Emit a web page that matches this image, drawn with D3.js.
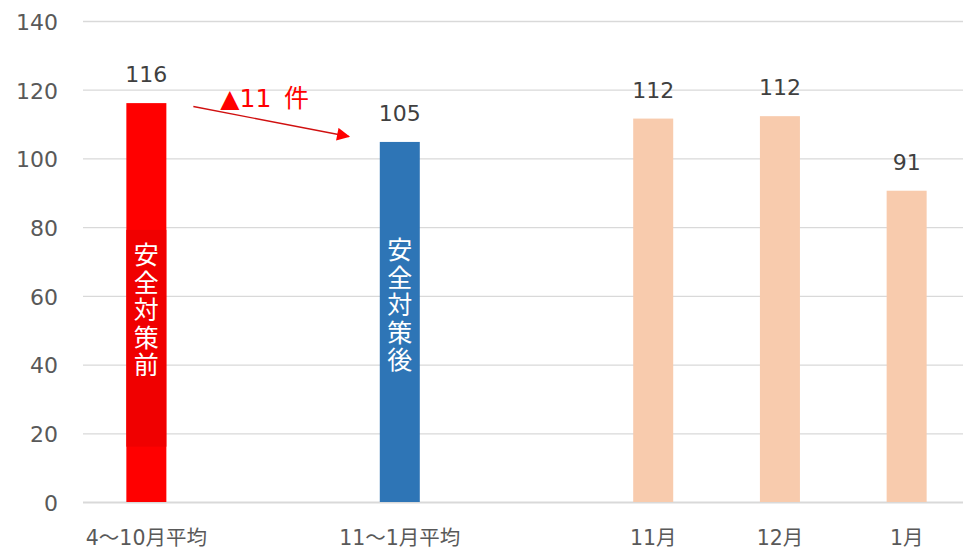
<!DOCTYPE html>
<html><head><meta charset="utf-8">
<script src="https://cdn.jsdelivr.net/npm/d3@7"></script>
<style>
html,body{margin:0;padding:0;background:#fff;}
svg{display:block;}
text{font-family:"DejaVu Sans","Noto Sans CJK JP",sans-serif;}
</style></head>
<body>
<svg id="chart" width="963" height="550"></svg>
<script>
const categories = ["4〜10月平均", "", "11〜1月平均", "", "11月", "12月", "1月"];
const values = [116.1, null, 104.8, null, 111.6, 112.3, 90.6];
const barColors = ["#FF0000", null, "#2E75B6", null, "#F8CBAD", "#F8CBAD", "#F8CBAD"];
const barTexts = ["安全対策前", "", "安全対策後", "", "", "", ""];
const yTicks = [0, 20, 40, 60, 80, 100, 120, 140];
const annotationText = "▲11\u2002件";

(function () {
const mLeft = 83, mTop = 21, mBottom = 502, mRight = 963;
const svg = d3.select("#chart");

const y = d3.scaleLinear().domain([0, 140]).range([mBottom, mTop]);
const p = 0.6843;
const x = d3.scaleBand().domain(d3.range(categories.length))
  .range([mLeft, 970]).paddingInner(p).paddingOuter(p / 2);

// grid + y labels
const gy = svg.append("g").attr("transform", `translate(${mLeft},0)`)
  .call(d3.axisLeft(y).tickValues(yTicks).tickSize(-(mRight - mLeft)).tickPadding(25));
gy.select(".domain").remove();
gy.selectAll(".tick line").attr("stroke", "#D9D9D9").attr("stroke-width", 1.3);
gy.selectAll(".tick").filter(d => d === 0).select("line").attr("stroke-width", 2);
gy.selectAll(".tick text").attr("fill", "#595959").attr("font-size", 22)
  .attr("dy", "0.38em");

// x labels
const gx = svg.append("g").attr("transform", `translate(0,${mBottom})`)
  .call(d3.axisBottom(x).tickSize(0).tickPadding(28).tickFormat(i => categories[i]));
gx.select(".domain").remove();
gx.selectAll(".tick text").attr("fill", "#595959").attr("font-size", 20.5);

const data = categories.map((c, i) => ({i, c, v: values[i], col: barColors[i], t: barTexts[i]}))
  .filter(d => d.v != null);

// bars
svg.append("g").selectAll("rect").data(data).join("rect")
  .attr("x", d => x(d.i)).attr("width", x.bandwidth())
  .attr("y", d => y(d.v)).attr("height", d => y(0) - y(d.v))
  .attr("fill", d => d.col);

// darker text box on red bar
svg.append("rect").attr("x", x(0)).attr("width", x.bandwidth())
  .attr("y", y(79.2)).attr("height", y(16.1) - y(79.2)).attr("fill", "#F00000");

// value labels
svg.append("g").selectAll("text").data(data).join("text")
  .attr("x", d => x(d.i) + x.bandwidth() / 2).attr("y", d => y(d.v) - 21)
  .attr("text-anchor", "middle").attr("font-size", 22).attr("fill", "#404040")
  .text(d => d3.format(".0f")(d.v));

// vertical bar texts
data.filter(d => d.t).forEach(d => {
  const cx = x(d.i) + x.bandwidth() / 2;
  const startY = d.i === 0 ? 264 : 259;
  const chars = Array.from(d.t);
  svg.append("text").attr("text-anchor", "middle").attr("font-size", 25)
    .attr("fill", "#FFFFFF")
    .selectAll("tspan").data(chars).join("tspan")
    .attr("x", cx).attr("y", (c, k) => startY + k * 27.5).text(c => c);
});

// annotation arrow
const defs = svg.append("defs");
defs.append("marker").attr("id", "arr").attr("viewBox", "0 0 10 10")
  .attr("refX", 9).attr("refY", 5).attr("markerWidth", 16).attr("markerHeight", 13)
  .attr("markerUnits", "userSpaceOnUse").attr("orient", "auto")
  .append("path").attr("d", "M0,0 L10,5 L0,10 Z").attr("fill", "#FF0000");
const x1 = x(0) + x.bandwidth() + 27, y1 = y(115.1);
const x2 = x(2) - 31, y2 = y(106.4);
svg.append("line").attr("x1", x1).attr("y1", y1).attr("x2", x2).attr("y2", y2)
  .attr("stroke", "#D01010").attr("stroke-width", 1.4).attr("marker-end", "url(#arr)");
svg.append("text").attr("x", x1 + 27).attr("y", y(114.9)).attr("font-size", 25)
  .attr("fill", "#FF0000").text(annotationText);
})();
</script>
</body></html>
